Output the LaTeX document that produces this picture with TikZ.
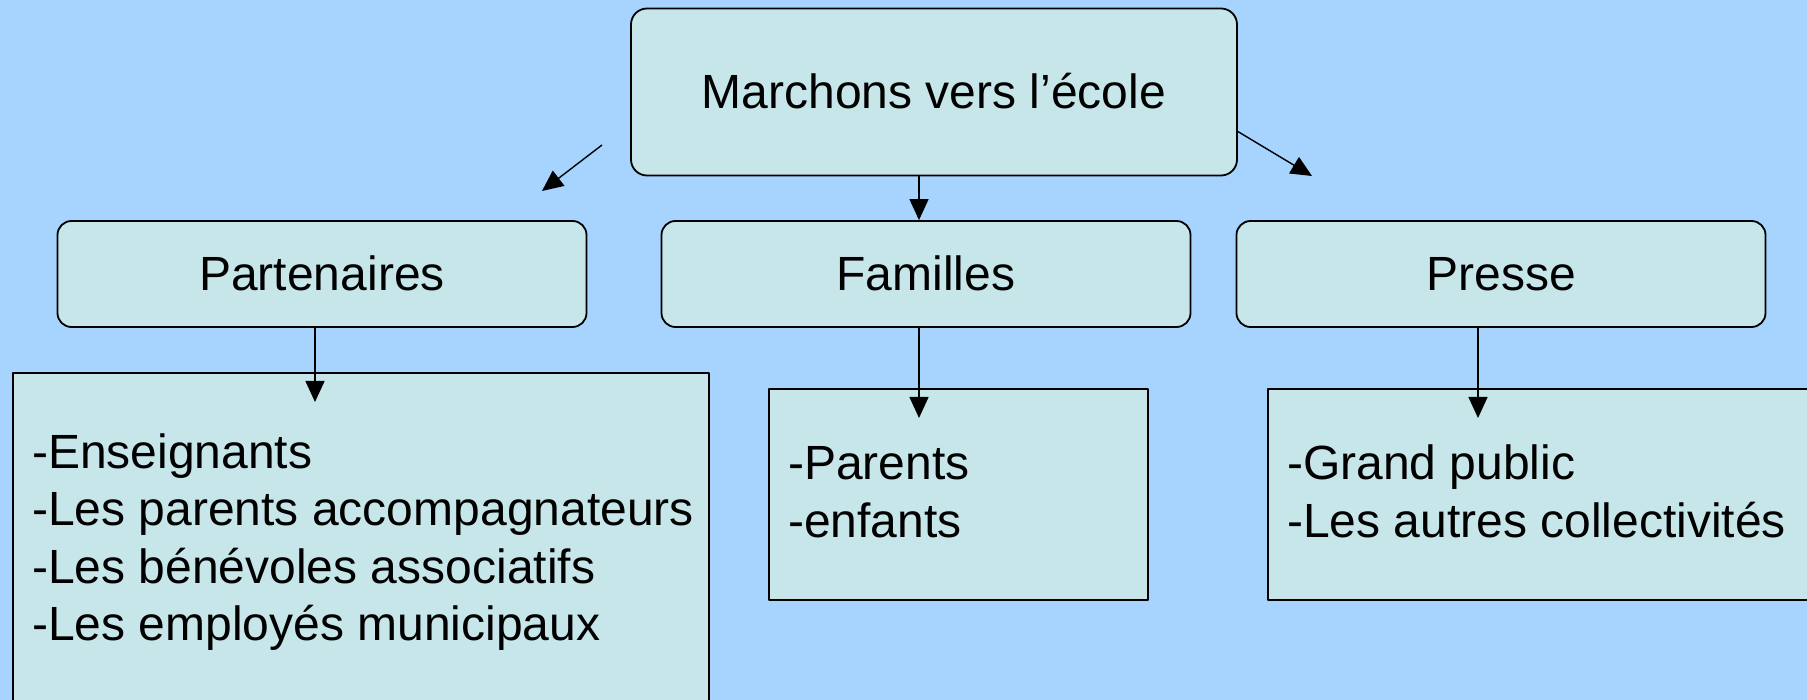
\documentclass[tikz,border=0pt]{standalone}
\usepackage{fontspec}
\setmainfont{Liberation Sans}
\usetikzlibrary{arrows.meta}
\definecolor{sky}{RGB}{166,212,255}
\definecolor{pale}{RGB}{198,230,233}
\tikzset{
    box/.style={draw, fill=pale, line width=1.8pt, rounded corners=14pt, inner sep=0pt, text height=34pt, text depth=0pt},
    listbox/.style={draw, fill=pale, line width=1.6pt, inner sep=0pt, anchor=north west},
    item/.style={inner sep=0pt, anchor=base west},
    arr/.style={line width=1.4pt, -{Triangle[length=21pt,width=19pt]}}
}
\begin{document}
\begin{tikzpicture}[x=1pt,y=-1pt,line join=round,font=\fontsize{48}{58}\selectfont]
    \fill[sky] (0,0) rectangle (1807,700);
    \useasboundingbox (0,0) rectangle (1807,700);
    % top and middle row
    \node[box, rounded corners=16pt, minimum width=606pt, minimum height=167pt] (top) at (934,92) {Marchons vers l’école};
    \foreach \n/\x/\t in {part/322/Partenaires, fam/926/Familles, pres/1501/Presse}
    {\node[box, minimum width=529pt, minimum height=106pt] (\n) at (\x,274) {\t};}
    % lists
    \node[listbox, minimum width=696pt, minimum height=360pt] (partlist) at (12,372) {};
    \node[listbox, minimum width=379pt, minimum height=211pt] (famlist) at (768,388) {};
    \node[listbox, minimum width=580pt, minimum height=211pt] (preslist) at (1267,388) {};
    \foreach \t [count=\i] in {-Enseignants, -Les parents accompagnateurs, -Les bénévoles associatifs, -Les employés municipaux}
    {\node[item] (partitem\i) at (32,{468+57.5*(\i-1)}) {\t};}
    \foreach \t [count=\i] in {-Parents, -enfants}
    {\node[item] (famitem\i) at (788,{479+58*(\i-1)}) {\t};}
    \foreach \t [count=\i] in {-Grand public, -Les autres collectivités}
    {\node[item] (presitem\i) at (1287,{479+58*(\i-1)}) {\t};}
    % arrows
    \coordinate (lfrom) at (602,145);
    \coordinate (lto) at (542,191);
    \coordinate (rfrom) at (1237,131);
    \coordinate (rto) at (1312,176);
    \coordinate (parttip) at (315,402);
    \coordinate (famtip) at (919,418);
    \coordinate (prestip) at (1478,418);
    \draw[arr] (lfrom) -- (lto);
    \draw[arr] (rfrom) -- (rto);
    \draw[arr] (top.south -| famtip) -- (famtip |- fam.north);
    \draw[arr] (part.south -| parttip) -- (parttip);
    \draw[arr] (fam.south -| famtip) -- (famtip);
    \draw[arr] (pres.south -| prestip) -- (prestip);
\end{tikzpicture}
\end{document}
